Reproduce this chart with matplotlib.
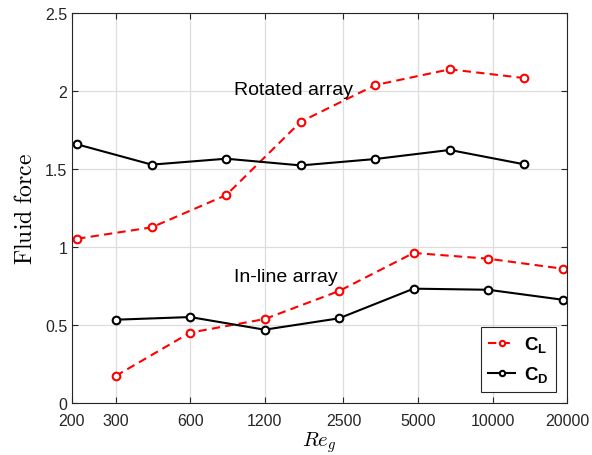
import numpy as np
import matplotlib
matplotlib.use('Agg')
import matplotlib.pyplot as plt
from matplotlib.ticker import FixedLocator, FixedFormatter, NullLocator
from matplotlib.font_manager import FontProperties

plt.rcParams['font.family'] = ['Liberation Sans', 'DejaVu Sans']

# rotated array
re_rot = [210, 420, 840, 1680, 3360, 6720, 13440]
cl_rot = [1.053, 1.126, 1.333, 1.803, 2.038, 2.139, 2.083]
cd_rot = [1.658, 1.528, 1.566, 1.523, 1.564, 1.622, 1.530]

# in-line array
re_inl = [300, 600, 1200, 2400, 4800, 9600, 19200]
cl_inl = [0.173, 0.451, 0.538, 0.718, 0.962, 0.925, 0.861]
cd_inl = [0.534, 0.551, 0.470, 0.543, 0.733, 0.726, 0.662]

xticks = [200, 300, 600, 1200, 2500, 5000, 10000, 20000]
xticklabels = ['200', '300', '600', '1200', '2500', '5000', '10000', '20000']
yticks = [0, 0.5, 1, 1.5, 2, 2.5]
yticklabels = ['0', '0.5', '1', '1.5', '2', '2.5']

fig = plt.figure(figsize=(5.92, 4.56), dpi=100)
ax = fig.add_axes([0.1216, 0.114, 0.8362, 0.8553])

red = dict(color='red', ls=(0, (4, 2.5)), lw=1.5, marker='o', ms=5.5,
           mfc='white', mew=1.5)
blk = dict(color='black', ls='-', lw=1.5, marker='o', ms=5.5,
           mfc='white', mew=1.5)

l1, = ax.plot(re_rot, cl_rot, **red)
l2, = ax.plot(re_rot, cd_rot, **blk)
ax.plot(re_inl, cl_inl, **red)
ax.plot(re_inl, cd_inl, **blk)

ax.set_xscale('log')
ax.set_xlim(200, 20000)
ax.set_ylim(0, 2.5)
ax.xaxis.set_major_locator(FixedLocator(xticks))
ax.xaxis.set_major_formatter(FixedFormatter(xticklabels))
ax.xaxis.set_minor_locator(NullLocator())
ax.set_yticks(yticks)
ax.set_yticklabels(yticklabels)

ax.grid(True, color='#dddddd', lw=0.9)
ax.set_axisbelow(True)
ax.tick_params(direction='in', top=True, right=True, length=4,
               labelsize=11.5, colors='#262626', width=0.8)
ax.tick_params(axis='x', pad=7)
for s in ax.spines.values():
    s.set_color('#262626')
    s.set_linewidth(0.8)

ax.set_ylabel(r'$\mathrm{Fluid\ force}$', fontsize=17, math_fontfamily='cm',
              labelpad=6)
ax.set_xlabel(r'$Re_g$', fontsize=15, math_fontfamily='cm', labelpad=1)

ax.text(900, 2.01, 'Rotated array', fontsize=14, va='center', ha='left')
ax.text(900, 0.81, 'In-line array', fontsize=14, va='center', ha='left')

fp = FontProperties(family='Liberation Sans', weight='bold', size=13.5)
leg = ax.legend([l1, l2], [r'C$_\mathregular{L}$', r'C$_\mathregular{D}$'],
                loc='lower right', bbox_to_anchor=(0.978, 0.028), prop=fp,
                borderaxespad=0, fancybox=False, framealpha=1,
                edgecolor='#262626', handlelength=1.4, handletextpad=0.5,
                borderpad=0.4, labelspacing=0.5, markerscale=0.7)
leg.get_frame().set_linewidth(0.8)

fig.savefig('out.png', dpi=100)
